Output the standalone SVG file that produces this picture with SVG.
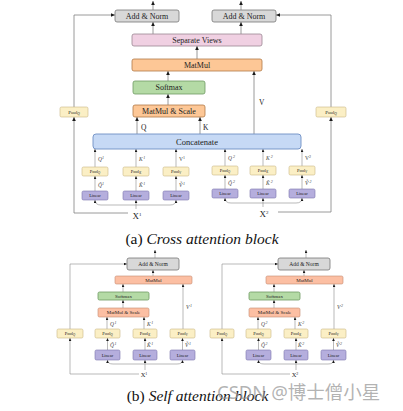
<svg xmlns="http://www.w3.org/2000/svg" width="403" height="411" viewBox="0 0 403 411">
<defs>
<marker id="ah" viewBox="0 0 6 6" refX="6" refY="3" markerWidth="4" markerHeight="4" orient="auto-start-reverse" markerUnits="userSpaceOnUse"><path d="M0,0.3 L6,3 L0,5.7 z" fill="#1a1a1a"/></marker>
<marker id="as" viewBox="0 0 6 6" refX="6" refY="3" markerWidth="3" markerHeight="3" orient="auto-start-reverse" markerUnits="userSpaceOnUse"><path d="M0,0.3 L6,3 L0,5.7 z" fill="#1a1a1a"/></marker>
<style>
text{font-family:"Liberation Serif","DejaVu Serif",serif;fill:#222;}
.c{stroke:#808080;stroke-width:0.8;fill:none;marker-end:url(#ah);}
.cs{stroke:#8a8a8a;stroke-width:0.6;fill:none;marker-end:url(#as);}
.fks{stroke:#8a8a8a;stroke-width:0.6;fill:none;marker-start:url(#as);marker-end:url(#as);}
.an{fill:#d8d8d8;stroke:#777;stroke-width:0.8;}
.sv{fill:#f0d0e2;stroke:#9b8793;stroke-width:0.8;}
.mm{fill:#fdc796;stroke:#b07a48;stroke-width:0.8;}
.mb{fill:#fcbfa3;stroke:#c58a70;stroke-width:0.6;}
.sm{fill:#b4daa5;stroke:#6e9a63;stroke-width:0.8;}
.cc{fill:#c6d9f5;stroke:#6e8fc4;stroke-width:0.9;}
.pl{fill:#fbefc5;stroke:#c9b784;stroke-width:0.6;}
.li{fill:#b5aedd;stroke:#7b73ad;stroke-width:0.6;}
.t8{font-size:8px;text-anchor:middle;}
.t5{font-size:5px;text-anchor:middle;}
.t55{font-size:5.5px;text-anchor:middle;}
.t4{font-size:4.5px;text-anchor:middle;}
.lbs{font-size:5.5px;font-style:italic;fill:#444;}
.cap{font-size:15.5px;text-anchor:middle;fill:#111;}
</style>
</defs>

<g id="connectors">
<!-- (a) -->
<path class="c" d="M153,10 V1"/>
<path class="c" d="M241,10 V1"/>
<path class="c" d="M153,34 V22"/>
<path class="c" d="M241,34 V22"/>
<path class="c" d="M197,59 V46"/>
<path class="c" d="M168,81 V71"/>
<path class="c" d="M168,105 V94"/>
<path class="c" d="M137,134 V117"/>
<path class="c" d="M200,134 V117"/>
<path class="c" d="M254,134 V71"/>
<path class="c" d="M74,107 V15 H115"/>
<path class="c" d="M128,213 H74 V117"/>
<path class="c" d="M331,107 V15 H276"/>
<path class="c" d="M278,212 H331 V117"/>
<path class="cs" d="M95,191 V176"/>
<path class="cs" d="M136,191 V176"/>
<path class="cs" d="M176,191 V176"/>
<path class="cs" d="M95,167 V149"/>
<path class="cs" d="M136,167 V149"/>
<path class="cs" d="M176,167 V149"/>
<path class="fks" d="M95,200 Q95,205 101,205 L170,205 Q176,205 176,200"/>
<path class="cs" d="M136,209 V200"/>
<path class="cs" d="M225,189 V175"/>
<path class="cs" d="M263,189 V175"/>
<path class="cs" d="M302,189 V175"/>
<path class="cs" d="M225,166 V149"/>
<path class="cs" d="M263,166 V149"/>
<path class="cs" d="M302,166 V149"/>
<path class="fks" d="M225,198 Q225,203 231,203 L296,203 Q302,203 302,198"/>
<path class="cs" d="M263,207 V198"/>
<!-- (b) left -->
<g id="conn-b1">
<path class="cs" d="M155,258 V250"/>
<path class="cs" d="M153,276 V270"/>
<path class="cs" d="M123,292 V284"/>
<path class="cs" d="M123,308 V300"/>
<path class="cs" d="M107,329 V317"/>
<path class="cs" d="M144,329 V317"/>
<path class="cs" d="M183,329 V284"/>
<path class="cs" d="M107.5,350 V338"/>
<path class="cs" d="M145,350 V338"/>
<path class="cs" d="M182.5,350 V338"/>
<path class="cs" d="M70,329 V264 H127"/>
<path class="cs" d="M139,374 H70 V338"/>
<path class="fks" d="M107.5,360 Q107.5,364 113,364 L177,364 Q182.5,364 182.5,360"/>
<path class="cs" d="M145,370 V360"/>
</g>
<g id="conn-b2" transform="translate(151,0)">
<path class="cs" d="M155,258 V250"/>
<path class="cs" d="M153,276 V270"/>
<path class="cs" d="M123,292 V284"/>
<path class="cs" d="M123,308 V300"/>
<path class="cs" d="M107,329 V317"/>
<path class="cs" d="M144,329 V317"/>
<path class="cs" d="M183,329 V284"/>
<path class="cs" d="M107.5,350 V338"/>
<path class="cs" d="M145,350 V338"/>
<path class="cs" d="M182.5,350 V338"/>
<path class="cs" d="M71,329 V264 H127"/>
<path class="cs" d="M139,374 H71 V338"/>
<path class="fks" d="M107.5,360 Q107.5,364 113,364 L177,364 Q182.5,364 182.5,360"/>
<path class="cs" d="M145,370 V360"/>
</g>
</g>

<!-- (a) nodes -->
<g id="a-addnorm-l"><rect class="an" x="115" y="10" width="64" height="12" rx="2"/><text class="t8" x="147" y="18.8">Add &amp; Norm</text></g>
<g id="a-addnorm-r"><rect class="an" x="212" y="10" width="64" height="12" rx="2"/><text class="t8" x="244" y="18.8">Add &amp; Norm</text></g>
<g id="a-sepviews"><rect class="sv" x="132" y="34" width="130" height="12" rx="2"/><text class="t8" x="197" y="42.8">Separate Views</text></g>
<g id="a-matmul"><rect class="mm" x="132" y="59" width="130" height="12" rx="2"/><text class="t8" x="197" y="67.8">MatMul</text></g>
<g id="a-softmax"><rect class="sm" x="133" y="81" width="72" height="13" rx="2"/><text class="t8" x="169" y="90.3">Softmax</text></g>
<g id="a-matmulscale"><rect class="mm" x="133" y="105" width="72" height="12" rx="2"/><text class="t8" x="169" y="113.8">MatMul &amp; Scale</text></g>
<g id="a-concat"><rect class="cc" x="93" y="134" width="208" height="15" rx="3"/><text class="t8" x="197" y="144.5" style="font-size:8.5px">Concatenate</text></g>
<g id="a-poolq-l"><rect class="pl" x="60" y="107" width="28" height="10" rx="1.5"/><text class="t5" x="74" y="113.8">Pool<tspan font-size="3.5" font-style="italic" dy="1">Q</tspan></text></g>
<g id="a-poolq-r"><rect class="pl" x="316" y="107" width="30" height="10" rx="1.5"/><text class="t5" x="331" y="113.8">Pool<tspan font-size="3.5" font-style="italic" dy="1">Q</tspan></text></g>

<g id="a-labels-qkv">
<text x="141" y="130" style="font-size:7.5px">Q</text>
<text x="203" y="130" style="font-size:7.5px">K</text>
<text x="259" y="105" style="font-size:7.5px">V</text>
<text x="137" y="219" style="font-size:9px;text-anchor:middle">X<tspan font-size="5" dy="-3.5">1</tspan></text>
<text x="264" y="217" style="font-size:9px;text-anchor:middle">X<tspan font-size="5" dy="-3.5">2</tspan></text>
</g>

<!-- (a) input group 1 -->
<g id="a1-poolq"><rect class="pl" x="82" y="167" width="26" height="9" rx="1.5"/><text class="t4" x="95" y="173">Pool<tspan font-size="3" font-style="italic" dy="0.8">Q</tspan></text></g>
<g id="a1-poolk"><rect class="pl" x="123" y="167" width="26" height="9" rx="1.5"/><text class="t4" x="136" y="173">Pool<tspan font-size="3" font-style="italic" dy="0.8">K</tspan></text></g>
<g id="a1-poolv"><rect class="pl" x="163" y="167" width="26" height="9" rx="1.5"/><text class="t4" x="176" y="173">Pool<tspan font-size="3" font-style="italic" dy="0.8">V</tspan></text></g>
<g id="a1-linq"><rect class="li" x="82" y="191" width="26" height="9" rx="1.5"/><text class="t4" x="95" y="197.2">Linear</text></g>
<g id="a1-link"><rect class="li" x="123" y="191" width="26" height="9" rx="1.5"/><text class="t4" x="136" y="197.2">Linear</text></g>
<g id="a1-linv"><rect class="li" x="163" y="191" width="26" height="9" rx="1.5"/><text class="t4" x="176" y="197.2">Linear</text></g>
<g id="a1-labels">
<text class="lbs" x="98" y="161">Q<tspan font-size="4" dy="-2.5">1</tspan></text>
<text class="lbs" x="139" y="161">K<tspan font-size="4" dy="-2.5" dx="0.5">1</tspan></text>
<text class="lbs" x="179" y="161" style="font-style:normal">V<tspan font-size="4" dy="-2.5">1</tspan></text>
<text class="lbs" x="98" y="187">Q̃<tspan font-size="4" dy="-2.5">1</tspan></text>
<text class="lbs" x="139" y="187">K̃<tspan font-size="4" dy="-2.5" dx="0.5">1</tspan></text>
<text class="lbs" x="179" y="187">Ṽ<tspan font-size="4" dy="-2.5" dx="0.5">1</tspan></text>
</g>

<!-- (a) input group 2 -->
<g id="a2-poolq"><rect class="pl" x="212" y="166" width="26" height="9" rx="1.5"/><text class="t4" x="225" y="172">Pool<tspan font-size="3" font-style="italic" dy="0.8">Q</tspan></text></g>
<g id="a2-poolk"><rect class="pl" x="250" y="166" width="26" height="9" rx="1.5"/><text class="t4" x="263" y="172">Pool<tspan font-size="3" font-style="italic" dy="0.8">K</tspan></text></g>
<g id="a2-poolv"><rect class="pl" x="289" y="166" width="26" height="9" rx="1.5"/><text class="t4" x="302" y="172">Pool<tspan font-size="3" font-style="italic" dy="0.8">V</tspan></text></g>
<g id="a2-linq"><rect class="li" x="212" y="189" width="26" height="9" rx="1.5"/><text class="t4" x="225" y="195.2">Linear</text></g>
<g id="a2-link"><rect class="li" x="250" y="189" width="26" height="9" rx="1.5"/><text class="t4" x="263" y="195.2">Linear</text></g>
<g id="a2-linv"><rect class="li" x="289" y="189" width="26" height="9" rx="1.5"/><text class="t4" x="302" y="195.2">Linear</text></g>
<g id="a2-labels">
<text class="lbs" x="228" y="160">Q<tspan font-size="4" dy="-2.5" dx="1">2</tspan></text>
<text class="lbs" x="266" y="160">K<tspan font-size="4" dy="-2.5" dx="1">2</tspan></text>
<text class="lbs" x="305" y="160" style="font-style:normal">V<tspan font-size="4" dy="-2.5">2</tspan></text>
<text class="lbs" x="228" y="185">Q̃<tspan font-size="4" dy="-2.5" dx="1">2</tspan></text>
<text class="lbs" x="266" y="185">K̃<tspan font-size="4" dy="-2.5" dx="1">2</tspan></text>
<text class="lbs" x="305" y="185">Ṽ<tspan font-size="4" dy="-2.5" dx="1">2</tspan></text>
</g>

<text id="cap-a" class="cap" x="202" y="244">(a) <tspan font-style="italic">Cross attention block</tspan></text>

<!-- (b) left -->
<g id="b1-addnorm"><rect class="an" x="127" y="258" width="52" height="12" rx="2"/><text class="t55" x="153" y="265.8">Add &amp; Norm</text></g>
<g id="b1-matmul"><rect class="mb" x="115" y="276" width="77" height="8" rx="1.5"/><text class="t5" x="153.5" y="281.8">MatMul</text></g>
<g id="b1-softmax"><rect class="sm" x="98" y="292" width="51" height="8" rx="1.5"/><text class="t5" x="123.5" y="297.8">Softmax</text></g>
<g id="b1-matmulscale"><rect class="mb" x="98" y="308" width="51" height="9" rx="1.5"/><text class="t5" x="123.5" y="314.3">MatMul &amp; Scale</text></g>
<g id="b1-poolq-outer"><rect class="pl" x="57" y="329" width="26" height="9" rx="1.5"/><text class="t4" x="70" y="335">Pool<tspan font-size="3" font-style="italic" dy="0.8">Q</tspan></text></g>
<g id="b1-poolq"><rect class="pl" x="95" y="329" width="25" height="9" rx="1.5"/><text class="t4" x="107.5" y="335">Pool<tspan font-size="3" font-style="italic" dy="0.8">Q</tspan></text></g>
<g id="b1-poolk"><rect class="pl" x="133" y="329" width="24" height="9" rx="1.5"/><text class="t4" x="145" y="335">Pool<tspan font-size="3" font-style="italic" dy="0.8">K</tspan></text></g>
<g id="b1-poolv"><rect class="pl" x="170" y="329" width="25" height="9" rx="1.5"/><text class="t4" x="182.5" y="335">Pool<tspan font-size="3" font-style="italic" dy="0.8">V</tspan></text></g>
<g id="b1-linq"><rect class="li" x="95" y="350" width="25" height="10" rx="1.5"/><text class="t4" x="107.5" y="356.6">Linear</text></g>
<g id="b1-link"><rect class="li" x="133" y="350" width="24" height="10" rx="1.5"/><text class="t4" x="145" y="356.6">Linear</text></g>
<g id="b1-linv"><rect class="li" x="170" y="350" width="25" height="10" rx="1.5"/><text class="t4" x="182.5" y="356.6">Linear</text></g>
<g id="b1-labels">
<text class="lbs" x="110" y="326">Q<tspan font-size="4" dy="-2.5" dx="0.5">1</tspan></text>
<text class="lbs" x="147" y="326">K<tspan font-size="4" dy="-2.5" dx="0.5">1</tspan></text>
<text class="lbs" x="186" y="309">V<tspan font-size="4" dy="-2.5" dx="0.5">1</tspan></text>
<text class="lbs" x="110" y="347">Q̃<tspan font-size="4" dy="-2.5" dx="0.5">1</tspan></text>
<text class="lbs" x="147" y="347">K̃<tspan font-size="4" dy="-2.5" dx="0.5">1</tspan></text>
<text class="lbs" x="185" y="347">Ṽ<tspan font-size="4" dy="-2.5" dx="0.5">1</tspan></text>
<text x="144" y="377" style="font-size:6.5px;text-anchor:middle">X<tspan font-size="4" dy="-2.5">1</tspan></text>
</g>

<!-- (b) right -->
<g id="b2" transform="translate(151,0)">
<g id="b2-addnorm"><rect class="an" x="127" y="258" width="52" height="12" rx="2"/><text class="t55" x="153" y="265.8">Add &amp; Norm</text></g>
<g id="b2-matmul"><rect class="mb" x="115" y="276" width="77" height="8" rx="1.5"/><text class="t5" x="153.5" y="281.8">MatMul</text></g>
<g id="b2-softmax"><rect class="sm" x="98" y="292" width="51" height="8" rx="1.5"/><text class="t5" x="123.5" y="297.8">Softmax</text></g>
<g id="b2-matmulscale"><rect class="mb" x="98" y="308" width="51" height="9" rx="1.5"/><text class="t5" x="123.5" y="314.3">MatMul &amp; Scale</text></g>
<g id="b2-poolq-outer"><rect class="pl" x="59" y="329" width="24" height="9" rx="1.5"/><text class="t4" x="71" y="335">Pool<tspan font-size="3" font-style="italic" dy="0.8">Q</tspan></text></g>
<g id="b2-poolq"><rect class="pl" x="95" y="329" width="25" height="9" rx="1.5"/><text class="t4" x="107.5" y="335">Pool<tspan font-size="3" font-style="italic" dy="0.8">Q</tspan></text></g>
<g id="b2-poolk"><rect class="pl" x="133" y="329" width="24" height="9" rx="1.5"/><text class="t4" x="145" y="335">Pool<tspan font-size="3" font-style="italic" dy="0.8">K</tspan></text></g>
<g id="b2-poolv"><rect class="pl" x="170" y="329" width="25" height="9" rx="1.5"/><text class="t4" x="182.5" y="335">Pool<tspan font-size="3" font-style="italic" dy="0.8">V</tspan></text></g>
<g id="b2-linq"><rect class="li" x="95" y="350" width="25" height="10" rx="1.5"/><text class="t4" x="107.5" y="356.6">Linear</text></g>
<g id="b2-link"><rect class="li" x="133" y="350" width="24" height="10" rx="1.5"/><text class="t4" x="145" y="356.6">Linear</text></g>
<g id="b2-linv"><rect class="li" x="170" y="350" width="25" height="10" rx="1.5"/><text class="t4" x="182.5" y="356.6">Linear</text></g>
<g id="b2-labels">
<text class="lbs" x="110" y="326">Q<tspan font-size="4" dy="-2.5" dx="0.5">2</tspan></text>
<text class="lbs" x="147" y="326">K<tspan font-size="4" dy="-2.5" dx="0.5">2</tspan></text>
<text class="lbs" x="186" y="309">V<tspan font-size="4" dy="-2.5" dx="0.5">2</tspan></text>
<text class="lbs" x="110" y="347">Q̃<tspan font-size="4" dy="-2.5" dx="0.5">2</tspan></text>
<text class="lbs" x="147" y="347">K̃<tspan font-size="4" dy="-2.5" dx="0.5">2</tspan></text>
<text class="lbs" x="185" y="347">Ṽ<tspan font-size="4" dy="-2.5" dx="0.5">2</tspan></text>
<text x="144" y="377" style="font-size:6.5px;text-anchor:middle">X<tspan font-size="4" dy="-2.5">2</tspan></text>
</g>
</g>

<text id="cap-b" class="cap" x="197.5" y="401">(b) <tspan font-style="italic">Self attention block</tspan></text>
<text id="watermark" x="217" y="399" style="font-family:'Noto Sans','Noto Sans CJK SC',sans-serif;font-size:18.5px;fill:#9a9a9a;fill-opacity:0.75">CSDN @博士僧小星</text>
</svg>
